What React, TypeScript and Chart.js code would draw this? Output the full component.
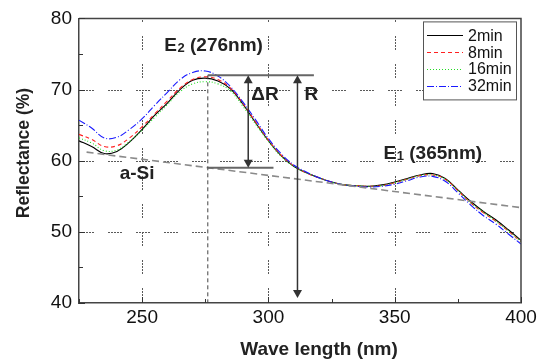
import React, { useEffect, useRef } from "react";
import { Chart, registerables } from "chart.js";

Chart.register(...registerables);

// ---- data ----
const wavelengths = [225, 230, 235, 240, 245, 250, 255, 260, 265, 270, 275, 280, 285, 290, 295, 300, 305, 310, 315, 320, 325, 330, 335, 340, 345, 350, 355, 360, 365, 370, 375, 380, 385, 390, 395, 400];
const reflect2min = [62.8, 62.0, 61.0, 61.3, 62.6, 64.4, 66.4, 68.1, 70.0, 71.3, 71.6, 71.2, 70.1, 67.9, 65.3, 62.8, 60.7, 59.2, 58.3, 57.6, 57.0, 56.6, 56.5, 56.4, 56.6, 57.0, 57.5, 58.0, 58.2, 57.5, 55.9, 54.3, 52.9, 51.7, 50.3, 48.8];
const reflect8min = [63.7, 63.0, 62.0, 62.1, 63.2, 64.8, 66.6, 68.4, 70.2, 71.4, 71.8, 71.4, 70.2, 68.0, 65.4, 62.9, 60.8, 59.3, 58.3, 57.6, 57.0, 56.6, 56.5, 56.4, 56.5, 56.9, 57.4, 57.9, 58.0, 57.4, 55.8, 54.1, 52.7, 51.5, 50.1, 48.6];
const reflect16min = [63.2, 62.5, 61.4, 61.5, 62.7, 64.3, 66.1, 67.9, 69.7, 70.8, 71.1, 70.8, 69.8, 67.6, 65.1, 62.7, 60.6, 59.2, 58.3, 57.6, 57.0, 56.6, 56.5, 56.4, 56.5, 56.9, 57.4, 57.9, 58.0, 57.4, 55.8, 54.1, 52.8, 51.5, 50.1, 48.6];
const reflect32min = [65.7, 64.6, 63.2, 63.3, 64.4, 65.9, 67.8, 69.6, 71.4, 72.4, 72.6, 71.9, 70.4, 68.2, 65.7, 63.1, 61.0, 59.4, 58.4, 57.6, 57.0, 56.6, 56.4, 56.3, 56.4, 56.7, 57.2, 57.7, 57.8, 57.1, 55.5, 53.8, 52.3, 51.1, 49.7, 48.3];
const seriesLabels = ["2min", "8min", "16min", "32min"];
const seriesColors = ["#000000", "#ff2020", "#22dd22", "#1a1aff"];
const seriesDashes = [[], [4, 3], [1, 2], [7, 2, 1, 2]];

const aSiWavelengths = [228, 400];
const aSiBaseline = [61.2, 53.4];

const xTickLabels = [250, 300, 350, 400];
const yTickLabels = [40, 50, 60, 70, 80];

// annotation anchors (data units)
const E2_NM = 276;
const PEAK_LEVEL = 72;
const DELTA_BASE = 59.0;
const R_BASE = 40.7;
const DELTA_R_X = 292;
const R_X = 311.5;
const TOP_LINE_END = 318;
const LOW_LINE_END = 302;

const GRID_DASH = [2, 1, 2, 1, 2, 1, 2, 1, 2, 14];
const FONT = "'Liberation Sans', Arial, sans-serif";

function arrow(ctx: CanvasRenderingContext2D, x: number, y1: number, y2: number) {
  const hl = 8, hw = 4.5;
  ctx.beginPath();
  ctx.moveTo(x, y1 + hl - 1);
  ctx.lineTo(x, y2 - hl + 1);
  ctx.stroke();
  ctx.beginPath();
  ctx.moveTo(x, y1);
  ctx.lineTo(x - hw, y1 + hl);
  ctx.lineTo(x + hw, y1 + hl);
  ctx.closePath();
  ctx.fill();
  ctx.beginPath();
  ctx.moveTo(x, y2);
  ctx.lineTo(x - hw, y2 - hl);
  ctx.lineTo(x + hw, y2 - hl);
  ctx.closePath();
  ctx.fill();
}

function subLabel(ctx: CanvasRenderingContext2D, main: string, sub: string, rest: string, cx: number, cy: number) {
  const big = `bold 19px ${FONT}`;
  const small = `bold 13px ${FONT}`;
  ctx.font = big;
  const w1 = ctx.measureText(main).width;
  const w3 = ctx.measureText(rest).width;
  ctx.font = small;
  const w2 = ctx.measureText(sub).width;
  let x = cx - (w1 + w2 + w3) / 2;
  ctx.textAlign = "left";
  ctx.textBaseline = "alphabetic";
  const base = cy + 7;
  ctx.font = big;
  ctx.fillText(main, x, base);
  x += w1 + 0.5;
  ctx.font = small;
  ctx.fillText(sub, x, base + 1);
  x += w2;
  ctx.font = big;
  ctx.fillText(rest, x, base);
}

function drawGrid(chart: any) {
  const { ctx, chartArea: ca, scales } = chart;
  const xs = scales.x, ys = scales.y;
  ctx.save();
  ctx.lineWidth = 1;
  ctx.strokeStyle = "#5a5a5a";
  ctx.setLineDash(GRID_DASH);
  xTickLabels.forEach((v) => {
    if (v <= 225 || v >= 400) return;
    const px = Math.round(xs.getPixelForValue(v)) + 0.5;
    ctx.beginPath();
    ctx.moveTo(px, ca.bottom - 1);
    ctx.lineTo(px, ca.top + 1);
    ctx.stroke();
  });
  yTickLabels.forEach((v) => {
    if (v <= 40 || v >= 80) return;
    const py = Math.round(ys.getPixelForValue(v)) + 0.5;
    ctx.beginPath();
    ctx.moveTo(ca.left + 1, py);
    ctx.lineTo(ca.right - 1, py);
    ctx.stroke();
  });
  ctx.restore();
}

const annotations = {
  id: "annotations",
  beforeDatasetsDraw(chart: any) {
    drawGrid(chart);
  },
  afterDatasetsDraw(chart: any) {
    const { ctx, chartArea: ca, scales } = chart;
    const xs = scales.x, ys = scales.y;
    ctx.save();
    // frame top/right
    ctx.strokeStyle = "#444";
    ctx.lineWidth = 1.5;
    ctx.setLineDash([]);
    ctx.beginPath();
    ctx.moveTo(ca.left, ca.top);
    ctx.lineTo(ca.right, ca.top);
    ctx.lineTo(ca.right, ca.bottom);
    ctx.stroke();

    // inward ticks
    ctx.lineWidth = 1;
    ctx.strokeStyle = "#333";
    xs.ticks.forEach((t: any) => {
      const px = Math.round(xs.getPixelForValue(t.value)) + 0.5;
      const len = t.value % 50 === 0 ? 6 : 4;
      ctx.beginPath();
      ctx.moveTo(px, ca.bottom);
      ctx.lineTo(px, ca.bottom - len);
      ctx.stroke();
    });
    ys.ticks.forEach((t: any) => {
      const py = Math.round(ys.getPixelForValue(t.value)) + 0.5;
      const len = t.value % 10 === 0 ? 6 : 4;
      ctx.beginPath();
      ctx.moveTo(ca.left, py);
      ctx.lineTo(ca.left + len, py);
      ctx.stroke();
    });

    const e2x = xs.getPixelForValue(E2_NM);
    const peakY = ys.getPixelForValue(PEAK_LEVEL);
    // vertical dashed at E2
    ctx.strokeStyle = "#444";
    ctx.lineWidth = 1;
    ctx.setLineDash([4, 3]);
    ctx.beginPath();
    ctx.moveTo(e2x, peakY);
    ctx.lineTo(e2x, ca.bottom);
    ctx.stroke();
    ctx.setLineDash([]);

    // horizontal reference lines
    ctx.strokeStyle = "#666";
    ctx.lineWidth = 2;
    ctx.beginPath();
    ctx.moveTo(e2x, peakY);
    ctx.lineTo(xs.getPixelForValue(TOP_LINE_END), peakY);
    ctx.stroke();
    const lowY = ys.getPixelForValue(DELTA_BASE);
    ctx.beginPath();
    ctx.moveTo(e2x, lowY);
    ctx.lineTo(xs.getPixelForValue(LOW_LINE_END), lowY);
    ctx.stroke();

    // arrows
    ctx.strokeStyle = "#333";
    ctx.fillStyle = "#333";
    ctx.lineWidth = 1.5;
    arrow(ctx, xs.getPixelForValue(DELTA_R_X), peakY, lowY);
    arrow(ctx, xs.getPixelForValue(R_X), peakY, ys.getPixelForValue(R_BASE));

    // labels
    ctx.fillStyle = "#222";
    subLabel(ctx, "E", "2", " (276nm)", xs.getPixelForValue(278.2), ys.getPixelForValue(76.4));
    subLabel(ctx, "E", "1", " (365nm)", xs.getPixelForValue(365), ys.getPixelForValue(61.2));
    ctx.font = `bold 19px ${FONT}`;
    ctx.textBaseline = "middle";
    ctx.textAlign = "left";
    ctx.fillText("ΔR", xs.getPixelForValue(293.2), ys.getPixelForValue(69.3));
    ctx.fillText("R", xs.getPixelForValue(314.3), ys.getPixelForValue(69.3));
    ctx.textAlign = "center";
    ctx.fillText("a-Si", xs.getPixelForValue(248), ys.getPixelForValue(58.1));

    // legend
    const lx = ca.right - 98, ly = ca.top + 3, lw = 93, lh = 78;
    ctx.fillStyle = "#fff";
    ctx.fillRect(lx, ly, lw, lh);
    ctx.strokeStyle = "#555";
    ctx.lineWidth = 1;
    ctx.strokeRect(lx + 0.5, ly + 0.5, lw, lh);
    ctx.font = `16px ${FONT}`;
    ctx.textAlign = "left";
    ctx.textBaseline = "middle";
    seriesLabels.forEach((lab, i) => {
      const ry = ly + 14 + i * 16.8;
      ctx.strokeStyle = seriesColors[i];
      ctx.setLineDash(seriesDashes[i]);
      ctx.lineWidth = 1;
      ctx.beginPath();
      ctx.moveTo(lx + 4, Math.round(ry) + 0.5);
      ctx.lineTo(lx + 40, Math.round(ry) + 0.5);
      ctx.stroke();
      ctx.setLineDash([]);
      ctx.fillStyle = "#111";
      ctx.fillText(lab, lx + 45, ry + 1);
    });
    ctx.restore();
  },
  afterDraw(chart: any) {
    const { ctx } = chart;
    ctx.save();
    ctx.fillStyle = "#222";
    ctx.textAlign = "center";
    ctx.textBaseline = "middle";
    ctx.font = `bold 19px ${FONT}`;
    ctx.fillText("Wave length (nm)", 319, 350);
    ctx.translate(24, 153);
    ctx.rotate(-Math.PI / 2);
    ctx.font = `bold 17.5px ${FONT}`;
    ctx.fillText("Reflectance (%)", 0, 0);
    ctx.restore();
  },
};

export default function App() {
  const ref = useRef<HTMLCanvasElement | null>(null);
  useEffect(() => {
    document.body.style.margin = "0";
    document.body.style.overflow = "hidden";
    const canvas = ref.current;
    if (!canvas) return;
    const curves = [reflect2min, reflect8min, reflect16min, reflect32min].map((vals, i) => ({
      label: seriesLabels[i],
      data: wavelengths.map((w, k) => ({ x: w, y: vals[k] })),
      borderColor: seriesColors[i],
      borderDash: seriesDashes[i],
      borderWidth: 1.1,
      pointRadius: 0,
      tension: 0.4,
      fill: false,
    }));
    const baseline = {
      label: "a-Si",
      data: aSiWavelengths.map((w, k) => ({ x: w, y: aSiBaseline[k] })),
      borderColor: "#8a8a8a",
      borderDash: [7, 4],
      borderWidth: 1.6,
      pointRadius: 0,
      tension: 0,
      fill: false,
    };
    const chart = new Chart(canvas, {
      type: "line",
      data: { datasets: [baseline, ...curves.reverse()] as any },
      options: {
        animation: false,
        responsive: true,
        maintainAspectRatio: false,
        layout: { padding: { top: 14, right: 24, left: 0, bottom: 0 } },
        plugins: { legend: { display: false }, tooltip: { enabled: false } },
        scales: {
          x: {
            type: "linear",
            min: 225,
            max: 400,
            afterFit: (s: any) => { s.height = 60; },
            ticks: {
              stepSize: 25,
              autoSkip: false,
              maxRotation: 0,
              padding: 3,
              color: "#111",
              font: { family: FONT, size: 19 },
              callback: (v: any) => (xTickLabels.includes(Number(v)) ? String(v) : ""),
            },
            grid: { display: false, drawTicks: false },
            border: { display: true, color: "#444", width: 1.5 },
          },
          y: {
            type: "linear",
            min: 40,
            max: 80,
            afterFit: (s: any) => { s.width = 79; },
            ticks: {
              stepSize: 5,
              autoSkip: false,
              padding: 7,
              color: "#111",
              font: { family: FONT, size: 19 },
              callback: (v: any) => (yTickLabels.includes(Number(v)) ? String(v) : ""),
            },
            grid: { display: false, drawTicks: false },
            border: { display: true, color: "#444", width: 1.5 },
          },
        },
      },
      plugins: [annotations],
    });
    return () => chart.destroy();
  }, []);
  return (
    <div style={{ position: "relative", width: 545, height: 363 }}>
      <canvas ref={ref} />
    </div>
  );
}
